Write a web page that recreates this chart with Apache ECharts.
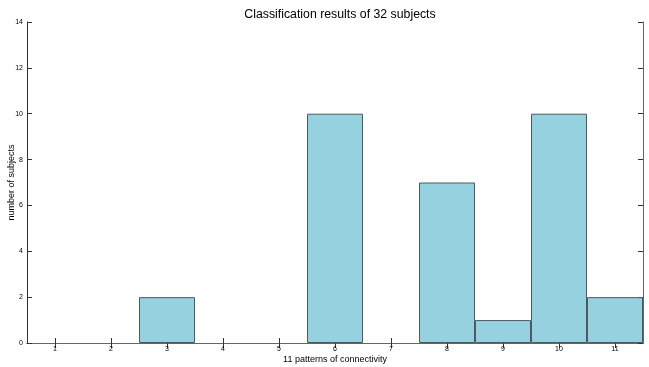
<!DOCTYPE html>
<html><head><meta charset="utf-8">
<script src="https://cdn.jsdelivr.net/npm/echarts@6/dist/echarts.min.js"></script>
<style>html,body{margin:0;padding:0;background:#fff}#c{width:649px;height:367px}</style>
</head><body><div id="c"></div>
<script>
var categories = ['1','2','3','4','5','6','7','8','9','10','11'];
var counts = [0,0,2,0,0,10,0,7,1,10,2];
var yTicks = [0,2,4,6,8,10,12,14];

var chart = echarts.init(document.getElementById('c'), null, {renderer:'canvas'});
var F = 'Liberation Sans, Arial, Helvetica, sans-serif';
var axisLine = {show:true, lineStyle:{color:'#333', width:1}};
var tick = {show:true, inside:true, length:5, lineStyle:{color:'#333'}};
chart.setOption({
  animation:false,
  title:{text:'Classification results of 32 subjects', left:335, textAlign:'center', top:4,
    textStyle:{fontFamily:F, fontSize:12.3, fontWeight:'normal', color:'#000'}},
  grid:{left:27, right:6, top:22, bottom:24, show:false, containLabel:false, outerBoundsMode:'none'},
  xAxis:[{
    type:'category', data:categories, boundaryGap:true, position:'bottom',
    name:'11 patterns of connectivity', nameLocation:'middle', nameGap:12, nameMoveOverlap:false,
    nameTextStyle:{fontFamily:F, fontSize:9, color:'#000'},
    axisLine:axisLine, axisTick:Object.assign({alignWithLabel:true}, tick),
    axisLabel:{fontFamily:F, fontSize:7, color:'#000', margin:3}
  },{
    type:'category', data:categories, boundaryGap:true, position:'top',
    axisLine:{show:true, lineStyle:{color:'#666', width:1}}, axisTick:Object.assign({alignWithLabel:true}, tick),
    axisLabel:{show:false}
  }],
  yAxis:[{
    type:'value', min:0, max:14, interval:2, position:'left',
    name:'number of subjects', nameLocation:'middle', nameGap:11, nameRotate:90, nameMoveOverlap:false,
    nameTextStyle:{fontFamily:F, fontSize:9, color:'#000'},
    axisLine:axisLine, axisTick:tick, splitLine:{show:false},
    axisLabel:{fontFamily:F, fontSize:7, color:'#000', margin:4}
  },{
    type:'value', min:0, max:14, interval:2, position:'right',
    axisLine:{show:true, lineStyle:{color:'#666', width:1}}, axisTick:tick, splitLine:{show:false},
    axisLabel:{show:false}
  }],
  series:[{
    type:'bar', data:counts.map(function(v){return v === 0 ? null : v;}),
    barWidth:'100%', barGap:'0%', xAxisIndex:0, yAxisIndex:0,
    itemStyle:{color:'#96d1e0', borderColor:'#4a5a60', borderWidth:1}
  }]
});
</script></body></html>
